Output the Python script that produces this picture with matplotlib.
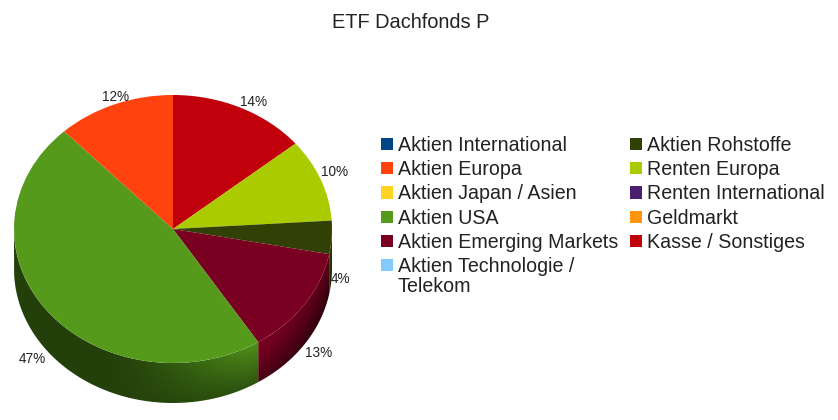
import numpy as np
import matplotlib
matplotlib.use("Agg")
from matplotlib import pyplot as plt
from matplotlib.legend_handler import HandlerPatch
from matplotlib.patches import Patch, PathPatch, Rectangle
from matplotlib.path import Path

categories = ["Aktien International", "Aktien Europa", "Aktien Japan / Asien", "Aktien USA",
              "Aktien Emerging Markets", "Aktien Technologie /\nTelekom", "Aktien Rohstoffe",
              "Renten Europa", "Renten International", "Geldmarkt", "Kasse / Sonstiges"]
colors = ["#004586", "#ff420e", "#ffd320", "#559a1b", "#7a0022", "#83caff", "#314004",
          "#aacb00", "#4b1f6f", "#ff950e", "#c0000b"]

# pie runs clockwise from the top
slice_names = ["Kasse / Sonstiges", "Renten Europa", "Aktien Rohstoffe",
               "Aktien Emerging Markets", "Aktien USA", "Aktien Europa"]
slice_values = [14, 10, 4, 13, 47, 12]
# label offset from the rim, pixels
label_offsets = [(13, 6), (14, 8), (9, -42), (14, -49), (-15, -48), (1, 7)]

W, H = 838, 420
plt.rcParams["font.family"] = ["Liberation Sans", "DejaVu Sans"]
fig = plt.figure(figsize=(W / 100, H / 100), dpi=100)

# ellipse 318x268 px, wall 40 px deep
depth = 40 / 134
ax = fig.add_axes([14 / W, 1 - 403 / H, 318 / W, 308 / H])
ax.set_xlim(-1, 1)
ax.set_ylim(-1 - depth, 1)
ax.axis("off")

col = dict(zip(categories, colors))
cum = np.cumsum([0] + slice_values) / sum(slice_values) * 2 * np.pi

# side wall, shaded pixel by pixel and clipped to each slice
xx, yy = np.meshgrid(np.linspace(-1, 1, 640), np.linspace(-1 - depth, 1, 620))
for i, name in enumerate(slice_names):
    a0, a1 = cum[i], cum[i + 1]
    # only the front half shows
    a0, a1 = max(a0, np.pi / 2), min(a1, 3 * np.pi / 2)
    if a1 <= a0:
        continue
    t = np.linspace(a0, a1, 120)
    top = np.column_stack([np.sin(t), np.cos(t)])
    bot = top[::-1] - [0, depth]
    verts = np.vstack([top, bot, top[:1]])
    base = np.array(matplotlib.colors.to_rgb(col[name]))
    # fraction down the wall and horizontal position
    ell = -np.sqrt(np.clip(1 - xx ** 2, 0, 1))
    down = np.clip((ell - yy) / depth, 0, 1)
    right = np.clip((xx + 0.4) / 0.9, 0, 1)
    shade = 0.42 + (0.5 * right ** 1.4) * (1 - 0.75 * down)
    if name == "Aktien Emerging Markets":
        shade = 1.0 - 0.4 * down ** 1.3 - 0.3 * np.clip((xx - 0.55) / 0.45, 0, 1)
    img = base[None, None, :] * shade[..., None]
    im = ax.imshow(img, extent=(-1, 1, -1 - depth, 1), origin="lower", aspect="auto", zorder=1)
    im.set_clip_path(PathPatch(Path(verts), transform=ax.transData))

wedges, _ = ax.pie(slice_values, colors=[col[n] for n in slice_names], startangle=90,
                   counterclock=False, radius=1, wedgeprops={"linewidth": 0, "zorder": 2})
ax.set_aspect("auto")
ax.set_xlim(-1, 1)
ax.set_ylim(-1 - depth, 1)

for i, v in enumerate(slice_values):
    m = (cum[i] + cum[i + 1]) / 2
    ax.annotate(f"{v}%", (np.sin(m), np.cos(m)), xytext=label_offsets[i], textcoords="offset pixels",
                ha="center", va="center", fontsize=9.8, color="#222222", annotation_clip=False, zorder=5)

fig.text(411 / W, 1 - 23 / H, "ETF Dachfonds P", ha="center", va="center", fontsize=14.4, color="#222222")


# the wrapped entry keeps its square beside the first line
def raised_square(legend, orig_handle, xdescent, ydescent, width, height, fontsize):
    return Rectangle((-xdescent, -ydescent + 8.8), width, height)


handles = [Patch(facecolor=c, edgecolor="none") for c in colors]
leg = fig.legend(handles, categories, ncol=2, loc="upper left", bbox_to_anchor=(373 / W, 1 - 128 / H),
                 frameon=False, fontsize=14.15, handlelength=0.6, handleheight=0.6, handletextpad=0.27,
                 labelspacing=0.27, columnspacing=0.62, borderpad=0.4, borderaxespad=0,
                 handler_map={handles[5]: HandlerPatch(patch_func=raised_square)})
for t in leg.get_texts():
    t.set_color("#222222")
    t.set_linespacing(1.06)

fig.savefig("out.png", dpi=100)
